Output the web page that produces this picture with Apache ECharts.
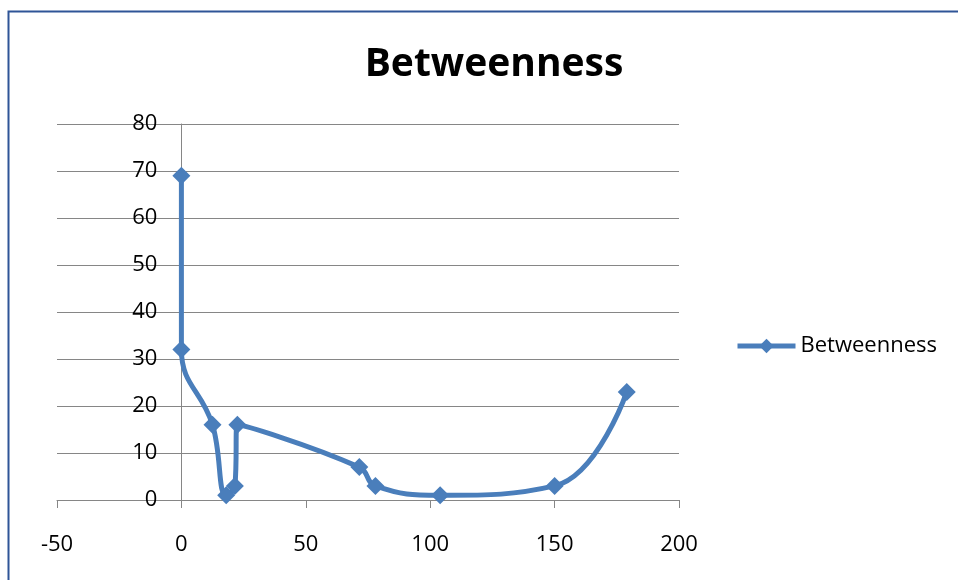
<!DOCTYPE html>
<html><head><meta charset="utf-8">
<script src="https://cdn.jsdelivr.net/npm/echarts@6/dist/echarts.min.js"></script>
<style>html,body{margin:0;padding:0;background:#fff}#c{width:958px;height:580px}</style>
</head><body><div id="c"></div>
<script>
var xValues = [0, 0, 12.5, 18, 21.5, 22.5, 71.5, 78, 104, 150, 179];
var yValues = [69, 32, 16, 1, 3, 16, 7, 3, 1, 3, 23];
var seriesName = 'Betweenness';
var xTicks = [-50, 0, 50, 100, 150, 200];
var yTicks = [0, 10, 20, 30, 40, 50, 60, 70, 80];

var pts = xValues.map(function (x, i) { return [x, yValues[i]]; });
var font = 'Open Sans, Noto Sans, sans-serif';
var gridLeft = 57, gridRight = 279;
var plotW = 958 - gridLeft - gridRight;
var xMin = xTicks[0], xMax = xTicks[xTicks.length - 1];
var yAxisShift = plotW * (0 - xMin) / (xMax - xMin);
var chart = echarts.init(document.getElementById('c'), null, {renderer: 'canvas'});
chart.setOption({
  animation: false,
  title: {text: 'Betweenness', left: 489, textAlign: 'center', top: 40,
    textStyle: {fontFamily: font, fontWeight: 'bold', fontSize: 39, color: '#000'}},
  graphic: [{type: 'polyline', shape: {points: [[8.5, 580], [8.5, 11.5], [958, 11.5]]},
    style: {stroke: '#2f5597', lineWidth: 2, fill: null}, silent: true}],
  legend: {left: 730, top: 330, itemWidth: 58, itemHeight: 18, itemGap: 4,
    textStyle: {fontFamily: font, fontSize: 22, color: '#000'},
    lineStyle: {width: 5},
    data: [{name: seriesName}]},
  grid: {left: gridLeft, right: gridRight, top: 124, bottom: 80},
  xAxis: {type: 'value', min: xMin, max: xMax, interval: 50,
    axisLine: {onZero: true, lineStyle: {color: '#868686', width: 1}},
    axisTick: {show: true, inside: false, length: 8, lineStyle: {color: '#868686'}},
    axisLabel: {margin: 34, fontFamily: font, fontSize: 22, color: '#000'},
    splitLine: {show: false}},
  yAxis: {type: 'value', min: yTicks[0], max: yTicks[yTicks.length - 1], interval: 10,
    offset: -yAxisShift,
    axisLine: {show: true, onZero: false, lineStyle: {color: '#868686', width: 1}},
    axisTick: {show: false},
    axisLabel: {margin: 24, fontFamily: font, fontSize: 22, color: '#000'},
    splitLine: {show: true, lineStyle: {color: '#868686', width: 1}}},
  series: [{name: seriesName, type: 'line', data: pts, smooth: 0.45,
    symbol: 'diamond', symbolSize: 18, showSymbol: true,
    lineStyle: {color: '#4a7ebb', width: 5},
    itemStyle: {color: '#4a7ebb'}}]
});
</script></body></html>
